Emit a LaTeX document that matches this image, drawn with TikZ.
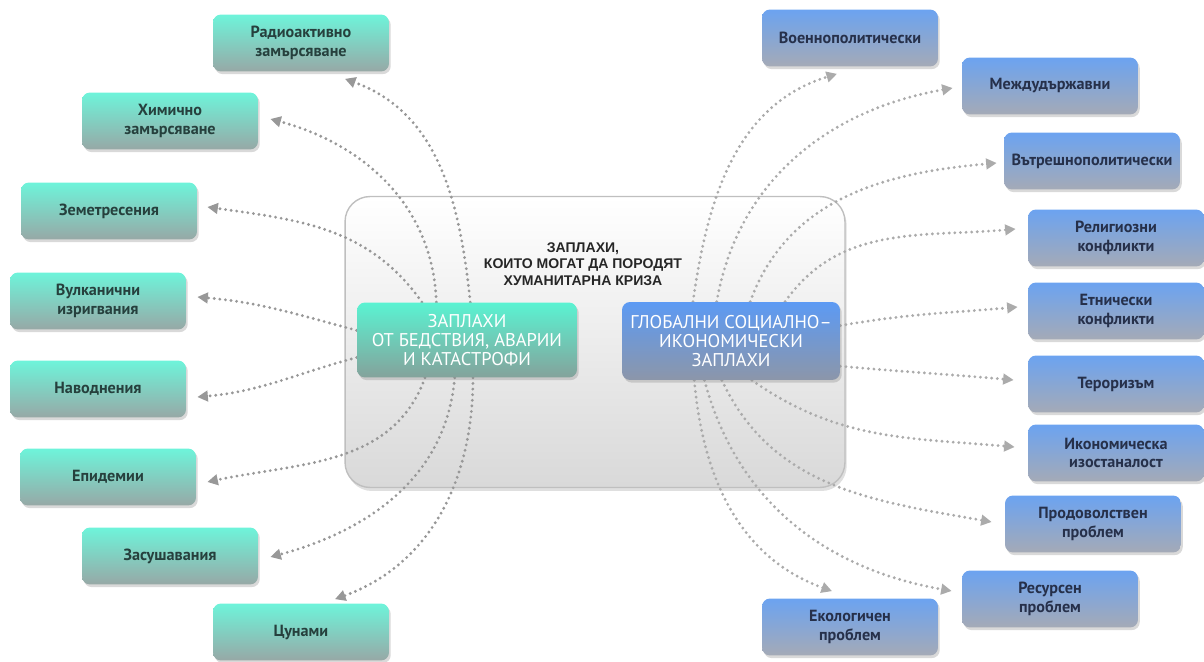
\documentclass[tikz,border=0pt]{standalone}
\usepackage{fontspec}
\setmainfont{PT Sans}
\newfontfamily\headfont{Liberation Sans}
\usetikzlibrary{arrows.meta,shadows}
\definecolor{tealtop}{HTML}{6EF4DA}
\definecolor{tealbot}{HTML}{97A8A6}
\definecolor{tealtext}{HTML}{26403D}
\definecolor{bluetop}{HTML}{6CA3F0}
\definecolor{bluebot}{HTML}{A4AAB7}
\definecolor{bluetext}{HTML}{26304A}
\definecolor{hubtealtop}{HTML}{5AF3D2}
\definecolor{hubtealbot}{HTML}{84A29B}
\definecolor{hubbluetop}{HTML}{5C9AF4}
\definecolor{hubbluebot}{HTML}{8C96A9}
\definecolor{leftgray}{HTML}{989898}
\definecolor{rightgray}{HTML}{ABABAB}
\pgfdeclarelayer{panel}
\pgfdeclarelayer{links}
\pgfsetlayers{panel,links,main}

\begin{document}
\begin{tikzpicture}[x=0.02cm,y=0.02cm,
    natural/.style ={rounded corners=0.16cm, top color=tealtop, bottom color=tealbot, text=tealtext,
      minimum width=3.52cm, minimum height=1.14cm, inner sep=2pt, align=center,
      font=\bfseries\fontsize{9.2}{10.4}\selectfont,
      drop shadow={opacity=0.3, shadow xshift=1pt, shadow yshift=-1.5pt}},
    social/.style ={natural, top color=bluetop, bottom color=bluebot, text=bluetext},
    hub/.style ={rounded corners=0.16cm, text=white, align=center, inner sep=2pt,
      font=\fontsize{10.5}{11}\selectfont,
      drop shadow={opacity=0.3, shadow xshift=1pt, shadow yshift=-1.5pt}},
    link/.style ={draw=leftgray, line width=1.8pt, line cap=round, dash pattern=on 0pt off 3.2pt,
      -{Triangle[length=6pt,width=6pt,fill=leftgray]}},
    rlink/.style ={link, draw=rightgray, -{Triangle[length=6pt,width=6pt,fill=rightgray]}}]
   \useasboundingbox (0,0) rectangle (1204,-662);
   % frame and title
   \begin{pgfonlayer}{panel}
   \node[rounded corners=0.5cm, draw=black!25, line width=0.8pt, top color=white, bottom color=black!15,
     minimum width=10cm, minimum height=5.82cm,
     drop shadow={opacity=0.25, shadow xshift=1pt, shadow yshift=-2pt}] (crisis) at (595,-342) {};
   \end{pgfonlayer}
   \node[align=center, font=\headfont\bfseries\fontsize{8}{9.3}\selectfont, text=black!85] (title) at (583,-264)
     {ЗАПЛАХИ,\\КОИТО МОГАТ ДА ПОРОДЯТ\\ХУМАНИТАРНА КРИЗА};
   \node[hub, top color=hubtealtop, bottom color=hubtealbot, minimum width=4.4cm, minimum height=1.5cm] (nat) at (467,-340)
     {ЗАПЛАХИ\\ОТ БЕДСТВИЯ, АВАРИИ\\И КАТАСТРОФИ};
   \node[hub, top color=hubbluetop, bottom color=hubbluebot, minimum width=4.36cm, minimum height=1.56cm] (soc) at (731,-341)
     {ГЛОБАЛНИ СОЦИАЛНО–\\ИКОНОМИЧЕСКИ\\ЗАПЛАХИ};
   % left column
   \node[natural] (radio) at (301,-43) {Радиоактивно\\замърсяване};
   \node[natural] (chem) at (170,-121) {Химично\\замърсяване};
   \node[natural] (quake) at (109,-211) {Земетресения};
   \node[natural] (volcano) at (98,-301) {Вулканични\\изригвания};
   \node[natural] (flood) at (98,-389) {Наводнения};
   \node[natural] (epidemic) at (108,-477) {Епидемии};
   \node[natural] (drought) at (170,-556) {Засушавания};
   \node[natural] (tsunami) at (301,-632) {Цунами};
   % right column
   \node[social] (military) at (850,-38) {Военнополитически};
   \node[social] (interstate) at (1050,-86) {Междудържавни};
   \node[social] (internal) at (1092,-161) {Вътрешнополитически};
   \node[social] (religion) at (1116,-238) {Религиозни\\конфликти};
   \node[social] (ethnic) at (1116,-311) {Етнически\\конфликти};
   \node[social] (terror) at (1116,-384) {Тероризъм};
   \node[social] (economy) at (1116,-453) {Икономическа\\изостаналост};
   \node[social] (food) at (1093,-524) {Продоволствен\\проблем};
   \node[social] (resource) at (1050,-599) {Ресурсен\\проблем};
   \node[social] (ecology) at (850,-627) {Екологичен\\проблем};
   \begin{pgfonlayer}{links}
   \draw[link] (nat.85) to [out=96, in=-20] ([shift={(44,-7)}]radio.south);
   \draw[link] (nat.129) to [out=92, in=-15] ([shift={(12,2)}]chem.east);
   \draw[link] (nat.140) to [out=125, in=-8] ([shift={(10,4)}]quake.east);
   \draw[link] (nat.175) to [out=165, in=-5] ([shift={(11,4)}]volcano.east);
   \draw[link] (nat.189) to [out=195, in=5] ([shift={(11,-8)}]flood.east);
   \draw[link] (nat.222) to [out=250, in=12] ([shift={(11,-5)}]epidemic.east);
   \draw[link] (nat.252) to [out=265, in=15] ([shift={(12,-1)}]drought.east);
   \draw[link] (nat.279) to [out=270, in=20] ([shift={(34,4)}]tsunami.north);
   \draw[rlink] (soc.134) to [out=82, in=197] ([shift={(-13,-7)}]military.south);
   \draw[rlink] (soc.110) to [out=80, in=190] ([shift={(-9,-2)}]interstate.west);
   \draw[rlink] (soc.64) to [out=70, in=185] ([shift={(-7,-2)}]internal.west);
   \draw[rlink] (soc.36) to [out=55, in=185] ([shift={(-12,9)}]religion.west);
   \draw[rlink] (soc.8) to [out=10, in=185] ([shift={(-10,4)}]ethnic.west);
   \draw[rlink] (soc.-13) to [out=-5, in=175] ([shift={(-14,4)}]terror.west);
   \draw[rlink] (soc.-62) to [out=-35, in=175] ([shift={(-13,6)}]economy.west);
   \draw[rlink] (soc.257) to [out=-65, in=170] ([shift={(-13,2)}]food.west);
   \draw[rlink] (soc.236) to [out=-75, in=170] ([shift={(-10,8)}]resource.west);
   \draw[rlink] (soc.227) to [out=-85, in=160] ([shift={(-18,7)}]ecology.north);
   \end{pgfonlayer}
 \end{tikzpicture}
\end{document}
